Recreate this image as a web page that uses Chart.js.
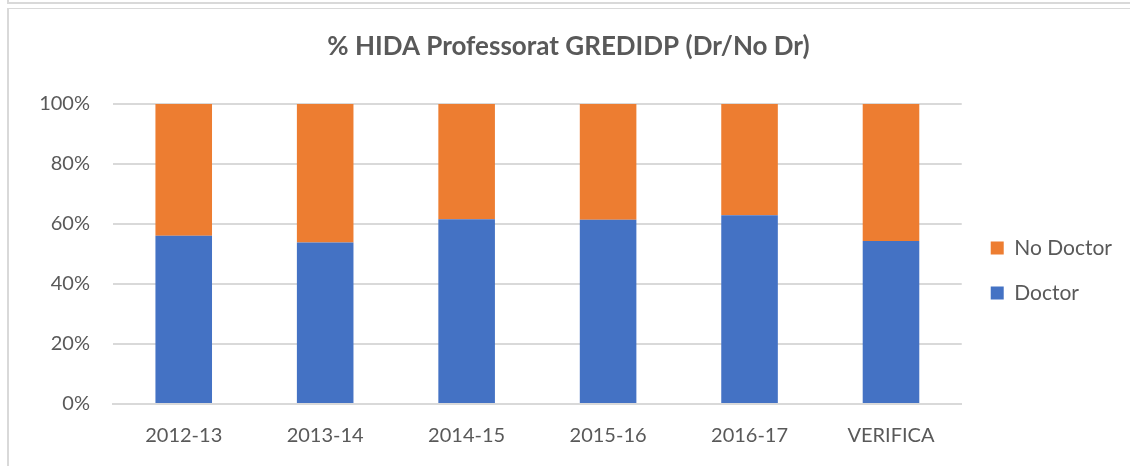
<!DOCTYPE html>
<html>
<head>
<meta charset="utf-8">
<script src="https://cdn.jsdelivr.net/npm/chart.js@4/dist/chart.umd.min.js"></script>
<style>
  body { margin: 0; background: #fff; }
  #wrap { position: relative; width: 1130px; height: 466px; overflow: hidden; }
  #topline { position: absolute; left: 7px; top: 2px; width: 1123px; height: 2px; background: #d9d9d9; }
  #topstub { position: absolute; left: 7px; top: 0; width: 2px; height: 4px; background: #d9d9d9; }
  #frame { position: absolute; left: 7px; top: 8px; width: 1130px; height: 470px;
           border-left: 2px solid #d9d9d9; border-top: 1px solid #d9d9d9; }
  #c { position: absolute; left: 0; top: 0; }
</style>
</head>
<body>
<div id="wrap">
  <div id="topline"></div>
  <div id="topstub"></div>
  <div id="frame"></div>
  <canvas id="c" width="1130" height="466"></canvas>
</div>
<script>
var categories = ["2012-13", "2013-14", "2014-15", "2015-16", "2016-17", "VERIFICA"];
var doctor = [56.1, 53.8, 61.6, 61.4, 62.9, 54.3];
var noDoctor = [43.9, 46.2, 38.4, 38.6, 37.1, 45.7];
var yTicks = [0, 20, 40, 60, 80, 100];

var FONT = "Lato, 'Open Sans', sans-serif";
var GREY = "#595959";

// nudge the legend box so it sits where Excel put it
var legendShift = {
    id: "legendShift",
    afterLayout: function (chart) {
        var lg = chart.legend;
        lg.left += 5; lg.right += 5;
        lg.top += 25; lg.bottom += 25;
    }
};

var config = {
    type: "bar",
    data: {
        labels: categories,
        datasets: [
            {
                label: "Doctor",
                data: doctor,
                backgroundColor: "#4472c4",
                barPercentage: 0.4,
                categoryPercentage: 1
            },
            {
                label: "No Doctor",
                data: noDoctor,
                backgroundColor: "#ed7d31",
                barPercentage: 0.4,
                categoryPercentage: 1
            }
        ]
    },
    options: {
        responsive: false,
        animation: false,
        layout: { padding: { left: 20, right: 13, top: 31, bottom: 6 } },
        plugins: {
            title: {
                display: true,
                text: "% HIDA Professorat GREDIDP (Dr/No Dr)",
                color: GREY,
                font: { family: FONT, size: 26, weight: "bold" },
                padding: { top: 0, bottom: 41.8 }
            },
            legend: {
                position: "right",
                reverse: true,
                labels: {
                    color: GREY,
                    font: { family: FONT, size: 21 },
                    boxWidth: 13,
                    boxHeight: 13,
                    padding: 24
                }
            },
            tooltip: { enabled: false }
        },
        scales: {
            x: {
                stacked: true,
                grid: { display: false },
                border: { color: "#d9d9d9", width: 2 },
                ticks: {
                    color: GREY,
                    font: { family: FONT, size: 20 },
                    padding: 12
                }
            },
            y: {
                stacked: true,
                min: 0,
                max: 100,
                afterBuildTicks: function (axis) {
                    axis.ticks = yTicks.map(function (v) { return { value: v }; });
                },
                afterFit: function (axis) { axis.width = 93; },
                grid: { color: "#d9d9d9", lineWidth: 2, drawTicks: false },
                border: { display: false },
                ticks: {
                    color: GREY,
                    font: { family: FONT, size: 20 },
                    padding: 23,
                    callback: function (v) { return v + "%"; }
                }
            }
        }
    },
    plugins: [legendShift]
};

window.onload = function () {
    var ctx = document.getElementById("c").getContext("2d");
    window.myBar = new Chart(ctx, config);
};
</script>
</body>
</html>
